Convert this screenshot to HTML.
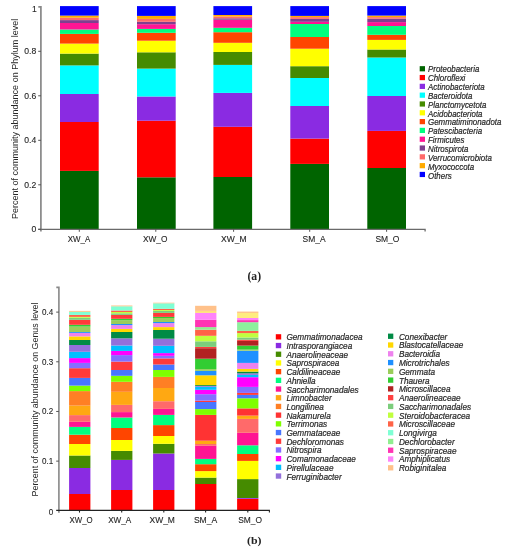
<!DOCTYPE html>
<html><head><meta charset="utf-8"><style>
html,body{margin:0;padding:0;background:#fff;}
body{width:508px;height:550px;position:relative;overflow:hidden;font-family:"Liberation Sans",sans-serif;}
svg{position:absolute;left:0;top:0;will-change:transform;}
</style></head><body>
<svg width="508" height="550" viewBox="0 0 508 550" font-family="Liberation Sans">
<g>
<rect x="60.0" y="170.9" width="38.7" height="58.10" fill="#006400"/>
<rect x="60.0" y="122" width="38.7" height="48.90" fill="#FF0000"/>
<rect x="60.0" y="94" width="38.7" height="28.00" fill="#8A2BE2"/>
<rect x="60.0" y="65.4" width="38.7" height="28.60" fill="#00FFFF"/>
<rect x="60.0" y="53.6" width="38.7" height="11.80" fill="#458B00"/>
<rect x="60.0" y="43.6" width="38.7" height="10.00" fill="#FFFF00"/>
<rect x="60.0" y="33.9" width="38.7" height="9.70" fill="#FF4500"/>
<rect x="60.0" y="29.5" width="38.7" height="4.40" fill="#00FF7F"/>
<rect x="60.0" y="23.0" width="38.7" height="6.50" fill="#FF1493"/>
<rect x="60.0" y="20.1" width="38.7" height="2.90" fill="#7F3F8F"/>
<rect x="60.0" y="17.7" width="38.7" height="2.40" fill="#FF6A6A"/>
<rect x="60.0" y="15.6" width="38.7" height="2.10" fill="#FFAA00"/>
<rect x="60.0" y="6.1" width="38.7" height="9.50" fill="#0000FF"/>
<rect x="137.0" y="177.3" width="38.7" height="51.70" fill="#006400"/>
<rect x="137.0" y="120.7" width="38.7" height="56.60" fill="#FF0000"/>
<rect x="137.0" y="96.5" width="38.7" height="24.20" fill="#8A2BE2"/>
<rect x="137.0" y="68.6" width="38.7" height="27.90" fill="#00FFFF"/>
<rect x="137.0" y="52.3" width="38.7" height="16.30" fill="#458B00"/>
<rect x="137.0" y="40.7" width="38.7" height="11.60" fill="#FFFF00"/>
<rect x="137.0" y="32.8" width="38.7" height="7.90" fill="#FF4500"/>
<rect x="137.0" y="28.9" width="38.7" height="3.90" fill="#00FF7F"/>
<rect x="137.0" y="24.2" width="38.7" height="4.70" fill="#FF1493"/>
<rect x="137.0" y="21.8" width="38.7" height="2.40" fill="#7F3F8F"/>
<rect x="137.0" y="18.9" width="38.7" height="2.90" fill="#FF6A6A"/>
<rect x="137.0" y="15.9" width="38.7" height="3.00" fill="#FFAA00"/>
<rect x="137.0" y="6.1" width="38.7" height="9.80" fill="#0000FF"/>
<rect x="213.4" y="177.0" width="38.7" height="52.00" fill="#006400"/>
<rect x="213.4" y="126.8" width="38.7" height="50.20" fill="#FF0000"/>
<rect x="213.4" y="92.9" width="38.7" height="33.90" fill="#8A2BE2"/>
<rect x="213.4" y="64.9" width="38.7" height="28.00" fill="#00FFFF"/>
<rect x="213.4" y="52.0" width="38.7" height="12.90" fill="#458B00"/>
<rect x="213.4" y="42.8" width="38.7" height="9.20" fill="#FFFF00"/>
<rect x="213.4" y="32.2" width="38.7" height="10.60" fill="#FF4500"/>
<rect x="213.4" y="27.8" width="38.7" height="4.40" fill="#00FF7F"/>
<rect x="213.4" y="19.7" width="38.7" height="8.10" fill="#FF1493"/>
<rect x="213.4" y="18.3" width="38.7" height="1.40" fill="#7F3F8F"/>
<rect x="213.4" y="16.5" width="38.7" height="1.80" fill="#FF6A6A"/>
<rect x="213.4" y="15.0" width="38.7" height="1.50" fill="#FFAA00"/>
<rect x="213.4" y="6.1" width="38.7" height="8.90" fill="#0000FF"/>
<rect x="290.3" y="163.9" width="38.7" height="65.10" fill="#006400"/>
<rect x="290.3" y="138.6" width="38.7" height="25.30" fill="#FF0000"/>
<rect x="290.3" y="106.0" width="38.7" height="32.60" fill="#8A2BE2"/>
<rect x="290.3" y="78.0" width="38.7" height="28.00" fill="#00FFFF"/>
<rect x="290.3" y="66.2" width="38.7" height="11.80" fill="#458B00"/>
<rect x="290.3" y="48.7" width="38.7" height="17.50" fill="#FFFF00"/>
<rect x="290.3" y="37.0" width="38.7" height="11.70" fill="#FF4500"/>
<rect x="290.3" y="24.0" width="38.7" height="13.00" fill="#00FF7F"/>
<rect x="290.3" y="21.8" width="38.7" height="2.20" fill="#FF1493"/>
<rect x="290.3" y="18.9" width="38.7" height="2.90" fill="#7F3F8F"/>
<rect x="290.3" y="17.1" width="38.7" height="1.80" fill="#FF6A6A"/>
<rect x="290.3" y="15.9" width="38.7" height="1.20" fill="#FFAA00"/>
<rect x="290.3" y="6.1" width="38.7" height="9.80" fill="#0000FF"/>
<rect x="367.3" y="168.0" width="38.7" height="61.00" fill="#006400"/>
<rect x="367.3" y="130.9" width="38.7" height="37.10" fill="#FF0000"/>
<rect x="367.3" y="96.0" width="38.7" height="34.90" fill="#8A2BE2"/>
<rect x="367.3" y="57.5" width="38.7" height="38.50" fill="#00FFFF"/>
<rect x="367.3" y="49.5" width="38.7" height="8.00" fill="#458B00"/>
<rect x="367.3" y="39.9" width="38.7" height="9.60" fill="#FFFF00"/>
<rect x="367.3" y="34.8" width="38.7" height="5.10" fill="#FF4500"/>
<rect x="367.3" y="26.0" width="38.7" height="8.80" fill="#00FF7F"/>
<rect x="367.3" y="22.1" width="38.7" height="3.90" fill="#FF1493"/>
<rect x="367.3" y="18.7" width="38.7" height="3.40" fill="#7F3F8F"/>
<rect x="367.3" y="17.1" width="38.7" height="1.60" fill="#FF6A6A"/>
<rect x="367.3" y="15.6" width="38.7" height="1.50" fill="#FFAA00"/>
<rect x="367.3" y="6.1" width="38.7" height="9.50" fill="#0000FF"/>
</g>
<g stroke="#888" stroke-width="1.7" fill="none">
<path d="M38.3 6.8 H40.9 V231.5"/>
</g>
<g stroke="#6a6a6a" stroke-width="1.3" fill="none">
<path d="M38.2 229.3 H425.1 V231.6"/>
</g>
<g stroke="#555" stroke-width="1">
<path d="M38.2 229.30 H41"/><path d="M38.2 184.80 H41"/><path d="M38.2 140.30 H41"/><path d="M38.2 95.80 H41"/><path d="M38.2 51.30 H41"/>
<path d="M79.30 229.3 V231.8"/><path d="M155.80 229.3 V231.8"/><path d="M233.60 229.3 V231.8"/><path d="M309.70 229.3 V231.8"/><path d="M386.60 229.3 V231.8"/>
</g>
<g font-size="8.6" fill="#262626" text-anchor="end" stroke="#262626" stroke-width="0.12">
<text x="36.3" y="232.30">0</text><text x="36.3" y="187.80">0.2</text><text x="36.3" y="143.30">0.4</text><text x="36.3" y="98.80">0.6</text><text x="36.3" y="54.30">0.8</text><text x="36.8" y="12.30">1</text>
</g>
<g fill="#262626" stroke="#262626" stroke-width="0.12">
<text x="67.80" y="242.3" font-size="8.8" textLength="22.50" lengthAdjust="spacingAndGlyphs">XW_A</text><text x="143.00" y="242.3" font-size="8.8" textLength="24.40" lengthAdjust="spacingAndGlyphs">XW_O</text><text x="221.10" y="242.3" font-size="8.8" textLength="25.60" lengthAdjust="spacingAndGlyphs">XW_M</text><text x="302.60" y="242.3" font-size="8.8" textLength="23.00" lengthAdjust="spacingAndGlyphs">SM_A</text><text x="375.40" y="242.3" font-size="8.8" textLength="24.00" lengthAdjust="spacingAndGlyphs">SM_O</text>
</g>
<text transform="translate(18.0,118.9) rotate(-90)" font-size="9.0" fill="#262626" stroke="#262626" stroke-width="0" text-anchor="middle">Percent of community abundance on Phylum level</text>
<g font-size="8.9" fill="#262626" font-style="italic" stroke="#262626" stroke-width="0.2">
<rect x="419.7" y="66.15" width="5.3" height="5.2" fill="#006400" stroke="none"/><text transform="translate(428,72.30) scale(0.89,1)">Proteobacteria</text><rect x="419.7" y="74.96" width="5.3" height="5.2" fill="#FF0000" stroke="none"/><text transform="translate(428,81.16) scale(0.89,1)">Chloroflexi</text><rect x="419.7" y="83.77" width="5.3" height="5.2" fill="#8A2BE2" stroke="none"/><text transform="translate(428,90.02) scale(0.89,1)">Actinobacteriota</text><rect x="419.7" y="92.58" width="5.3" height="5.2" fill="#00FFFF" stroke="none"/><text transform="translate(428,98.88) scale(0.89,1)">Bacteroidota</text><rect x="419.7" y="101.39" width="5.3" height="5.2" fill="#458B00" stroke="none"/><text transform="translate(428,107.74) scale(0.89,1)">Planctomycetota</text><rect x="419.7" y="110.20" width="5.3" height="5.2" fill="#FFFF00" stroke="none"/><text transform="translate(428,116.60) scale(0.89,1)">Acidobacteriota</text><rect x="419.7" y="119.01" width="5.3" height="5.2" fill="#FF4500" stroke="none"/><text transform="translate(428,125.46) scale(0.89,1)">Gemmatiminonadota</text><rect x="419.7" y="127.82" width="5.3" height="5.2" fill="#00FF7F" stroke="none"/><text transform="translate(428,134.32) scale(0.89,1)">Patescibacteria</text><rect x="419.7" y="136.63" width="5.3" height="5.2" fill="#FF1493" stroke="none"/><text transform="translate(428,143.18) scale(0.89,1)">Firmicutes</text><rect x="419.7" y="145.44" width="5.3" height="5.2" fill="#7F3F8F" stroke="none"/><text transform="translate(428,152.04) scale(0.89,1)">Nitrospirota</text><rect x="419.7" y="154.25" width="5.3" height="5.2" fill="#FF6A6A" stroke="none"/><text transform="translate(428,160.90) scale(0.89,1)">Verrucomicrobiota</text><rect x="419.7" y="163.06" width="5.3" height="5.2" fill="#FFAA00" stroke="none"/><text transform="translate(428,169.76) scale(0.89,1)">Myxococcota</text><rect x="419.7" y="171.87" width="5.3" height="5.2" fill="#0000FF" stroke="none"/><text transform="translate(428,178.62) scale(0.89,1)">Others</text>
</g>
<text x="254.3" y="279.7" font-family="Liberation Serif" font-weight="bold" font-size="11.7" fill="#222" text-anchor="middle">(a)</text>

<g>
<rect x="69.1" y="494.0" width="21.3" height="16.30" fill="#FF0000"/>
<rect x="69.1" y="468.0" width="21.3" height="26.00" fill="#8A2BE2"/>
<rect x="69.1" y="455.5" width="21.3" height="12.50" fill="#458B00"/>
<rect x="69.1" y="444.0" width="21.3" height="11.50" fill="#FFFF00"/>
<rect x="69.1" y="434.7" width="21.3" height="9.30" fill="#FF4500"/>
<rect x="69.1" y="426.9" width="21.3" height="7.80" fill="#00FF7F"/>
<rect x="69.1" y="421.8" width="21.3" height="5.10" fill="#FF1493"/>
<rect x="69.1" y="415.1" width="21.3" height="6.70" fill="#FF6A6A"/>
<rect x="69.1" y="405.6" width="21.3" height="9.50" fill="#FFA812"/>
<rect x="69.1" y="391.1" width="21.3" height="14.50" fill="#FF7F24"/>
<rect x="69.1" y="385.6" width="21.3" height="5.50" fill="#7FFF00"/>
<rect x="69.1" y="377.9" width="21.3" height="7.70" fill="#4876FF"/>
<rect x="69.1" y="368.2" width="21.3" height="9.70" fill="#FF3A3A"/>
<rect x="69.1" y="362.9" width="21.3" height="5.30" fill="#836FFF"/>
<rect x="69.1" y="358.1" width="21.3" height="4.80" fill="#FF00FF"/>
<rect x="69.1" y="351.8" width="21.3" height="6.30" fill="#00BFFF"/>
<rect x="69.1" y="345.0" width="21.3" height="6.80" fill="#9370DB"/>
<rect x="69.1" y="340.0" width="21.3" height="5.00" fill="#008B45"/>
<rect x="69.1" y="336.4" width="21.3" height="3.60" fill="#FFD700"/>
<rect x="69.1" y="332.9" width="21.3" height="3.50" fill="#EE82EE"/>
<rect x="69.1" y="332.0" width="21.3" height="0.90" fill="#1E90FF"/>
<rect x="69.1" y="326.6" width="21.3" height="5.40" fill="#9ACD5A"/>
<rect x="69.1" y="324.8" width="21.3" height="1.80" fill="#32CD32"/>
<rect x="69.1" y="319.8" width="21.3" height="5.00" fill="#FF3A3A"/>
<rect x="69.1" y="317.8" width="21.3" height="2.00" fill="#7CCD7C"/>
<rect x="69.1" y="316.9" width="21.3" height="0.90" fill="#C0FF3E"/>
<rect x="69.1" y="314.9" width="21.3" height="2.00" fill="#FF6347"/>
<rect x="69.1" y="311.8" width="21.3" height="3.10" fill="#7FFFD4"/>
<rect x="69.1" y="310.9" width="21.3" height="0.90" fill="#FFC080"/>
<rect x="111.1" y="490.0" width="21.3" height="20.30" fill="#FF0000"/>
<rect x="111.1" y="459.9" width="21.3" height="30.10" fill="#8A2BE2"/>
<rect x="111.1" y="450.9" width="21.3" height="9.00" fill="#458B00"/>
<rect x="111.1" y="440.0" width="21.3" height="10.90" fill="#FFFF00"/>
<rect x="111.1" y="428.0" width="21.3" height="12.00" fill="#FF4500"/>
<rect x="111.1" y="417.5" width="21.3" height="10.50" fill="#00FF7F"/>
<rect x="111.1" y="412.1" width="21.3" height="5.40" fill="#FF1493"/>
<rect x="111.1" y="404.9" width="21.3" height="7.20" fill="#FF6A6A"/>
<rect x="111.1" y="391.8" width="21.3" height="13.10" fill="#FFA812"/>
<rect x="111.1" y="381.8" width="21.3" height="10.00" fill="#FF7F24"/>
<rect x="111.1" y="375.8" width="21.3" height="6.00" fill="#7FFF00"/>
<rect x="111.1" y="370.0" width="21.3" height="5.80" fill="#4876FF"/>
<rect x="111.1" y="361.6" width="21.3" height="8.40" fill="#FF3A3A"/>
<rect x="111.1" y="355.1" width="21.3" height="6.50" fill="#836FFF"/>
<rect x="111.1" y="350.9" width="21.3" height="4.20" fill="#FF00FF"/>
<rect x="111.1" y="345.5" width="21.3" height="5.40" fill="#00BFFF"/>
<rect x="111.1" y="338.3" width="21.3" height="7.20" fill="#9370DB"/>
<rect x="111.1" y="332.0" width="21.3" height="6.30" fill="#008B45"/>
<rect x="111.1" y="328.9" width="21.3" height="3.10" fill="#FFD700"/>
<rect x="111.1" y="325.1" width="21.3" height="3.80" fill="#EE82EE"/>
<rect x="111.1" y="324.0" width="21.3" height="1.10" fill="#1E90FF"/>
<rect x="111.1" y="320.2" width="21.3" height="3.80" fill="#9ACD5A"/>
<rect x="111.1" y="318.8" width="21.3" height="1.40" fill="#32CD32"/>
<rect x="111.1" y="314.9" width="21.3" height="3.90" fill="#FF3A3A"/>
<rect x="111.1" y="313.3" width="21.3" height="1.60" fill="#7CCD7C"/>
<rect x="111.1" y="312.0" width="21.3" height="1.30" fill="#C0FF3E"/>
<rect x="111.1" y="310.5" width="21.3" height="1.50" fill="#FF6347"/>
<rect x="111.1" y="306.3" width="21.3" height="4.20" fill="#7FFFD4"/>
<rect x="111.1" y="305.5" width="21.3" height="0.80" fill="#FFC080"/>
<rect x="153.1" y="490.0" width="21.3" height="20.30" fill="#FF0000"/>
<rect x="153.1" y="453.5" width="21.3" height="36.50" fill="#8A2BE2"/>
<rect x="153.1" y="443.8" width="21.3" height="9.70" fill="#458B00"/>
<rect x="153.1" y="436.0" width="21.3" height="7.80" fill="#FFFF00"/>
<rect x="153.1" y="425.1" width="21.3" height="10.90" fill="#FF4500"/>
<rect x="153.1" y="414.9" width="21.3" height="10.20" fill="#00FF7F"/>
<rect x="153.1" y="408.9" width="21.3" height="6.00" fill="#FF1493"/>
<rect x="153.1" y="401.2" width="21.3" height="7.70" fill="#FF6A6A"/>
<rect x="153.1" y="388.0" width="21.3" height="13.20" fill="#FFA812"/>
<rect x="153.1" y="376.9" width="21.3" height="11.10" fill="#FF7F24"/>
<rect x="153.1" y="370.0" width="21.3" height="6.90" fill="#7FFF00"/>
<rect x="153.1" y="364.5" width="21.3" height="5.50" fill="#4876FF"/>
<rect x="153.1" y="358.4" width="21.3" height="6.10" fill="#FF3A3A"/>
<rect x="153.1" y="355.8" width="21.3" height="2.60" fill="#836FFF"/>
<rect x="153.1" y="353.1" width="21.3" height="2.70" fill="#FF00FF"/>
<rect x="153.1" y="345.8" width="21.3" height="7.30" fill="#00BFFF"/>
<rect x="153.1" y="338.7" width="21.3" height="7.10" fill="#9370DB"/>
<rect x="153.1" y="330.0" width="21.3" height="8.70" fill="#008B45"/>
<rect x="153.1" y="327.1" width="21.3" height="2.90" fill="#FFD700"/>
<rect x="153.1" y="323.1" width="21.3" height="4.00" fill="#EE82EE"/>
<rect x="153.1" y="322.0" width="21.3" height="1.10" fill="#1E90FF"/>
<rect x="153.1" y="318.0" width="21.3" height="4.00" fill="#9ACD5A"/>
<rect x="153.1" y="316.9" width="21.3" height="1.10" fill="#32CD32"/>
<rect x="153.1" y="312.9" width="21.3" height="4.00" fill="#FF3A3A"/>
<rect x="153.1" y="310.9" width="21.3" height="2.00" fill="#7CCD7C"/>
<rect x="153.1" y="310.0" width="21.3" height="0.90" fill="#C0FF3E"/>
<rect x="153.1" y="308.8" width="21.3" height="1.20" fill="#FF6347"/>
<rect x="153.1" y="303.3" width="21.3" height="5.50" fill="#7FFFD4"/>
<rect x="153.1" y="302.7" width="21.3" height="0.60" fill="#FFC080"/>
<rect x="195.1" y="484.0" width="21.3" height="26.30" fill="#FF0000"/>
<rect x="195.1" y="477.6" width="21.3" height="6.40" fill="#458B00"/>
<rect x="195.1" y="471.1" width="21.3" height="6.50" fill="#FFFF00"/>
<rect x="195.1" y="464.2" width="21.3" height="6.90" fill="#FF4500"/>
<rect x="195.1" y="458.9" width="21.3" height="5.30" fill="#00FF7F"/>
<rect x="195.1" y="445.8" width="21.3" height="13.10" fill="#FF1493"/>
<rect x="195.1" y="444.0" width="21.3" height="1.80" fill="#FF6A6A"/>
<rect x="195.1" y="440.7" width="21.3" height="3.30" fill="#FFA812"/>
<rect x="195.1" y="414.9" width="21.3" height="25.80" fill="#FF3333"/>
<rect x="195.1" y="409.1" width="21.3" height="5.80" fill="#7FFF00"/>
<rect x="195.1" y="402.0" width="21.3" height="7.10" fill="#4876FF"/>
<rect x="195.1" y="400.7" width="21.3" height="1.30" fill="#FF3A3A"/>
<rect x="195.1" y="394.2" width="21.3" height="6.50" fill="#836FFF"/>
<rect x="195.1" y="389.8" width="21.3" height="4.40" fill="#FF00FF"/>
<rect x="195.1" y="386.8" width="21.3" height="3.00" fill="#00BFFF"/>
<rect x="195.1" y="386.0" width="21.3" height="0.80" fill="#9370DB"/>
<rect x="195.1" y="385.1" width="21.3" height="0.90" fill="#008B45"/>
<rect x="195.1" y="375.3" width="21.3" height="9.80" fill="#FFD700"/>
<rect x="195.1" y="370.9" width="21.3" height="4.40" fill="#1E90FF"/>
<rect x="195.1" y="369.1" width="21.3" height="1.80" fill="#9ACD5A"/>
<rect x="195.1" y="358.7" width="21.3" height="10.40" fill="#32CD32"/>
<rect x="195.1" y="348.2" width="21.3" height="10.50" fill="#B22222"/>
<rect x="195.1" y="346.9" width="21.3" height="1.30" fill="#FF3A3A"/>
<rect x="195.1" y="341.3" width="21.3" height="5.60" fill="#7CCD7C"/>
<rect x="195.1" y="335.8" width="21.3" height="5.50" fill="#C0FF3E"/>
<rect x="195.1" y="329.7" width="21.3" height="6.10" fill="#FF6347"/>
<rect x="195.1" y="327.1" width="21.3" height="2.60" fill="#90EE90"/>
<rect x="195.1" y="319.8" width="21.3" height="7.30" fill="#FF34B3"/>
<rect x="195.1" y="312.9" width="21.3" height="6.90" fill="#FF83FA"/>
<rect x="195.1" y="310.9" width="21.3" height="2.00" fill="#FFE07A"/>
<rect x="195.1" y="305.8" width="21.3" height="5.10" fill="#FFC18A"/>
<rect x="237.1" y="498.8" width="21.3" height="11.50" fill="#FF0000"/>
<rect x="237.1" y="498.0" width="21.3" height="0.80" fill="#8A2BE2"/>
<rect x="237.1" y="479.1" width="21.3" height="18.90" fill="#458B00"/>
<rect x="237.1" y="460.9" width="21.3" height="18.20" fill="#FFFF00"/>
<rect x="237.1" y="454.0" width="21.3" height="6.90" fill="#FF4500"/>
<rect x="237.1" y="445.3" width="21.3" height="8.70" fill="#00FF7F"/>
<rect x="237.1" y="432.8" width="21.3" height="12.50" fill="#FF1493"/>
<rect x="237.1" y="418.9" width="21.3" height="13.90" fill="#FF6A6A"/>
<rect x="237.1" y="415.6" width="21.3" height="3.30" fill="#FFA812"/>
<rect x="237.1" y="408.4" width="21.3" height="7.20" fill="#FF3333"/>
<rect x="237.1" y="398.3" width="21.3" height="10.10" fill="#7FFF00"/>
<rect x="237.1" y="394.9" width="21.3" height="3.40" fill="#4876FF"/>
<rect x="237.1" y="392.9" width="21.3" height="2.00" fill="#FF3A3A"/>
<rect x="237.1" y="386.9" width="21.3" height="6.00" fill="#836FFF"/>
<rect x="237.1" y="377.2" width="21.3" height="9.70" fill="#FF00FF"/>
<rect x="237.1" y="374.9" width="21.3" height="2.30" fill="#00BFFF"/>
<rect x="237.1" y="373.3" width="21.3" height="1.60" fill="#9370DB"/>
<rect x="237.1" y="371.6" width="21.3" height="1.70" fill="#008B45"/>
<rect x="237.1" y="368.9" width="21.3" height="2.70" fill="#FFD700"/>
<rect x="237.1" y="362.9" width="21.3" height="6.00" fill="#EE82EE"/>
<rect x="237.1" y="350.7" width="21.3" height="12.20" fill="#1E90FF"/>
<rect x="237.1" y="349.6" width="21.3" height="1.10" fill="#9ACD5A"/>
<rect x="237.1" y="345.6" width="21.3" height="4.00" fill="#32CD32"/>
<rect x="237.1" y="340.9" width="21.3" height="4.70" fill="#B22222"/>
<rect x="237.1" y="339.7" width="21.3" height="1.20" fill="#FF3A3A"/>
<rect x="237.1" y="337.5" width="21.3" height="2.20" fill="#7CCD7C"/>
<rect x="237.1" y="333.1" width="21.3" height="4.40" fill="#C0FF3E"/>
<rect x="237.1" y="330.9" width="21.3" height="2.20" fill="#FF6347"/>
<rect x="237.1" y="322.2" width="21.3" height="8.70" fill="#8CF09C"/>
<rect x="237.1" y="320.1" width="21.3" height="2.10" fill="#FF34B3"/>
<rect x="237.1" y="318.0" width="21.3" height="2.10" fill="#FF83FA"/>
<rect x="237.1" y="312.9" width="21.3" height="5.10" fill="#FFEC80"/>
<rect x="237.1" y="311.6" width="21.3" height="1.30" fill="#FFC080"/>
</g>
<g stroke="#888" stroke-width="1.6" fill="none">
<path d="M56.3 287.4 H58.9 V512.8"/>
</g>
<g stroke="#555" stroke-width="1">
<path d="M56.2 461.13 H58.9"/><path d="M56.2 411.46 H58.9"/><path d="M56.2 361.79 H58.9"/><path d="M56.2 312.12 H58.9"/>
</g>
<g stroke="#222" stroke-width="1.1" fill="none">
<path d="M56.2 510.4 H269.4 V512.4"/>
<path d="M79.50 510.4 V512.6"/><path d="M121.70 510.4 V512.6"/><path d="M163.80 510.4 V512.6"/><path d="M205.60 510.4 V512.6"/><path d="M247.80 510.4 V512.6"/>
</g>
<g font-size="8.4" fill="#262626" text-anchor="end" stroke="#262626" stroke-width="0.12">
<text transform="translate(53.2,514.60) scale(0.96,1)">0</text><text transform="translate(53.2,464.13) scale(0.96,1)">0.1</text><text transform="translate(53.2,414.46) scale(0.96,1)">0.2</text><text transform="translate(53.2,364.79) scale(0.96,1)">0.3</text><text transform="translate(53.2,315.12) scale(0.96,1)">0.4</text>
</g>
<g fill="#262626" stroke="#262626" stroke-width="0.12">
<text x="69.55" y="523.4" font-size="8.6" textLength="23.10" lengthAdjust="spacingAndGlyphs">XW_O</text><text x="108.15" y="523.4" font-size="8.6" textLength="23.10" lengthAdjust="spacingAndGlyphs">XW_A</text><text x="149.50" y="523.4" font-size="8.6" textLength="25.40" lengthAdjust="spacingAndGlyphs">XW_M</text><text x="193.90" y="523.4" font-size="8.6" textLength="23.40" lengthAdjust="spacingAndGlyphs">SM_A</text><text x="238.20" y="523.4" font-size="8.6" textLength="23.80" lengthAdjust="spacingAndGlyphs">SM_O</text>
</g>
<text transform="translate(37.6,399.5) rotate(-90)" font-size="8.9" fill="#262626" stroke="#262626" stroke-width="0" text-anchor="middle">Percent of community abundance on Genus level</text>
<g font-size="9.0" fill="#262626" font-style="italic" stroke="#262626" stroke-width="0.2">
<rect x="275.8" y="334.20" width="5.4" height="5.3" fill="#FF0000" stroke="none"/><text transform="translate(286.4,340.30) scale(0.915,1)">Gemmatimonadacea</text><rect x="275.8" y="342.90" width="5.4" height="5.3" fill="#8A2BE2" stroke="none"/><text transform="translate(286.4,349.00) scale(0.915,1)">Intrasporangiacea</text><rect x="275.8" y="351.60" width="5.4" height="5.3" fill="#458B00" stroke="none"/><text transform="translate(286.4,357.70) scale(0.915,1)">Anaerolineaceae</text><rect x="275.8" y="360.30" width="5.4" height="5.3" fill="#FFFF00" stroke="none"/><text transform="translate(286.4,366.40) scale(0.915,1)">Saprospiracea</text><rect x="275.8" y="369.00" width="5.4" height="5.3" fill="#FF4500" stroke="none"/><text transform="translate(286.4,375.10) scale(0.915,1)">Caldilineaceae</text><rect x="275.8" y="377.70" width="5.4" height="5.3" fill="#00FF7F" stroke="none"/><text transform="translate(286.4,383.80) scale(0.915,1)">Ahniella</text><rect x="275.8" y="386.40" width="5.4" height="5.3" fill="#FF1493" stroke="none"/><text transform="translate(286.4,392.50) scale(0.915,1)">Saccharimonadales</text><rect x="275.8" y="395.10" width="5.4" height="5.3" fill="#FFA812" stroke="none"/><text transform="translate(286.4,401.20) scale(0.915,1)">Limnobacter</text><rect x="275.8" y="403.80" width="5.4" height="5.3" fill="#FF7F24" stroke="none"/><text transform="translate(286.4,409.90) scale(0.915,1)">Longilinea</text><rect x="275.8" y="412.50" width="5.4" height="5.3" fill="#FF3333" stroke="none"/><text transform="translate(286.4,418.60) scale(0.915,1)">Nakamurela</text><rect x="275.8" y="421.20" width="5.4" height="5.3" fill="#7FFF00" stroke="none"/><text transform="translate(286.4,427.30) scale(0.915,1)">Terrimonas</text><rect x="275.8" y="429.90" width="5.4" height="5.3" fill="#4876FF" stroke="none"/><text transform="translate(286.4,436.00) scale(0.915,1)">Gemmataceae</text><rect x="275.8" y="438.60" width="5.4" height="5.3" fill="#FF3A3A" stroke="none"/><text transform="translate(286.4,444.70) scale(0.915,1)">Dechloromonas</text><rect x="275.8" y="447.30" width="5.4" height="5.3" fill="#836FFF" stroke="none"/><text transform="translate(286.4,453.40) scale(0.915,1)">Nitrospira</text><rect x="275.8" y="456.00" width="5.4" height="5.3" fill="#FF00FF" stroke="none"/><text transform="translate(286.4,462.10) scale(0.915,1)">Comamonadaceae</text><rect x="275.8" y="464.70" width="5.4" height="5.3" fill="#00BFFF" stroke="none"/><text transform="translate(286.4,470.80) scale(0.915,1)">Pirellulaceae</text><rect x="275.8" y="473.40" width="5.4" height="5.3" fill="#9370DB" stroke="none"/><text transform="translate(286.4,479.50) scale(0.915,1)">Ferruginibacter</text><rect x="388.0" y="333.60" width="5.3" height="5.3" fill="#008B45" stroke="none"/><text transform="translate(398.9,339.70) scale(0.915,1)">Conexibacter</text><rect x="388.0" y="342.37" width="5.3" height="5.3" fill="#FFD700" stroke="none"/><text transform="translate(398.9,348.47) scale(0.915,1)">Blastocatellaceae</text><rect x="388.0" y="351.14" width="5.3" height="5.3" fill="#EE82EE" stroke="none"/><text transform="translate(398.9,357.24) scale(0.915,1)">Bacteroidia</text><rect x="388.0" y="359.91" width="5.3" height="5.3" fill="#1E90FF" stroke="none"/><text transform="translate(398.9,366.01) scale(0.915,1)">Microtrichales</text><rect x="388.0" y="368.68" width="5.3" height="5.3" fill="#9ACD5A" stroke="none"/><text transform="translate(398.9,374.78) scale(0.915,1)">Gemmata</text><rect x="388.0" y="377.45" width="5.3" height="5.3" fill="#32CD32" stroke="none"/><text transform="translate(398.9,383.55) scale(0.915,1)">Thauera</text><rect x="388.0" y="386.22" width="5.3" height="5.3" fill="#B22222" stroke="none"/><text transform="translate(398.9,392.32) scale(0.915,1)">Microscillacea</text><rect x="388.0" y="394.99" width="5.3" height="5.3" fill="#FF4040" stroke="none"/><text transform="translate(398.9,401.09) scale(0.915,1)">Anaerolineaceae</text><rect x="388.0" y="403.76" width="5.3" height="5.3" fill="#7CCD7C" stroke="none"/><text transform="translate(398.9,409.86) scale(0.915,1)">Saccharimonadales</text><rect x="388.0" y="412.53" width="5.3" height="5.3" fill="#C0FF3E" stroke="none"/><text transform="translate(398.9,418.63) scale(0.915,1)">Steroidobacteracea</text><rect x="388.0" y="421.30" width="5.3" height="5.3" fill="#FF6347" stroke="none"/><text transform="translate(398.9,427.40) scale(0.915,1)">Microscillaceae</text><rect x="388.0" y="430.07" width="5.3" height="5.3" fill="#7FFFD4" stroke="none"/><text transform="translate(398.9,436.17) scale(0.915,1)">Longivirga</text><rect x="388.0" y="438.84" width="5.3" height="5.3" fill="#90EE90" stroke="none"/><text transform="translate(398.9,444.94) scale(0.915,1)">Dechlorobacter</text><rect x="388.0" y="447.61" width="5.3" height="5.3" fill="#FF34B3" stroke="none"/><text transform="translate(398.9,453.71) scale(0.915,1)">Saprospiraceae</text><rect x="388.0" y="456.38" width="5.3" height="5.3" fill="#FF83FA" stroke="none"/><text transform="translate(398.9,462.48) scale(0.915,1)">Amphiplicatus</text><rect x="388.0" y="465.15" width="5.3" height="5.3" fill="#FFC18A" stroke="none"/><text transform="translate(398.9,471.25) scale(0.915,1)">Robiginitalea</text>
</g>
<text transform="translate(254.2,543.9) scale(1.06,1)" font-family="Liberation Serif" font-weight="bold" font-size="11.2" fill="#222" text-anchor="middle">(b)</text>
</svg>
</body></html>
